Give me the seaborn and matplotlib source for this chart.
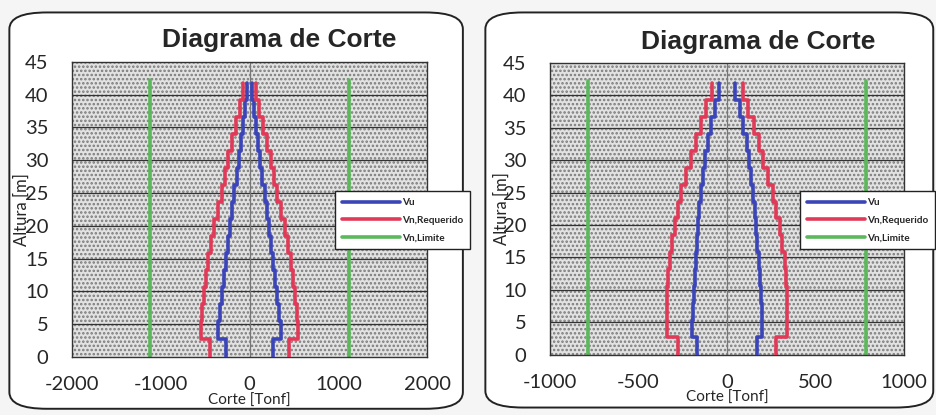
import matplotlib
matplotlib.use("Agg")
import matplotlib.pyplot as plt
import seaborn as sns
import numpy as np
from matplotlib.patches import FancyBboxPatch, Rectangle

# alturas de piso [m]
alturas = [0, 2.8, 5.4, 8.0, 10.6, 13.2, 15.8, 18.4, 21.0, 23.6, 26.2,
           28.8, 31.4, 34.0, 36.6, 39.2, 41.8]

# muro 1 (izquierda)
vu_1 = [260, 350, 335, 312, 290, 266, 243, 218, 195, 172, 146, 121, 97, 72, 50, 28]
vn_req_1 = [440, 545, 532, 516, 495, 470, 432, 395, 352, 310, 274, 238, 198, 155, 112, 68]
vn_lim_1 = 1125

# muro 2 (derecha)
vu_2 = [168, 199, 195, 189, 183, 178, 171, 164, 156, 148, 137, 125, 110, 90, 70, 45]
vn_req_2 = [278, 340, 340, 340, 334, 325, 312, 296, 277, 260, 232, 204, 178, 150, 120, 88]
vn_lim_2 = 785

xticks_1 = [-2000, -1000, 0, 1000, 2000]
xticks_2 = [-1000, -500, 0, 500, 1000]
yticks = [0, 5, 10, 15, 20, 25, 30, 35, 40, 45]

c_vu = "#3b45b8"
c_req = "#e03a58"
c_lim = "#5cb85c"

sns.set_theme(style="white")
plt.rcParams["font.family"] = ["Lato", "DejaVu Sans"]
plt.rcParams["axes.unicode_minus"] = False
plt.rcParams["hatch.color"] = "#7a7a7a"
plt.rcParams["hatch.linewidth"] = 1.2

fig = plt.figure(figsize=(9.37, 4.15), dpi=100)
fig.patch.set_facecolor("#f5f5f5")


def escalon(h, v):
    ys = np.repeat(h, 2)[1:-1]
    xs = np.repeat(v, 2)
    return xs, ys


def panel(rect, box, vu, vn, vlim, xticks, xlim, leg_xy, title_xy, ylab_x):
    # marco redondeado
    fig.patches.append(FancyBboxPatch((box[0], box[1]), box[2], box[3],
                                      boxstyle="round,pad=0,rounding_size=0.04",
                                      transform=fig.transFigure, facecolor="white",
                                      edgecolor="#222222", linewidth=1.4, zorder=-5))
    ax = fig.add_axes(rect)
    ax.set_facecolor("#e2e2e2")
    ax.add_patch(Rectangle((0, 0), 1, 1, transform=ax.transAxes, facecolor="none",
                           hatch="....", edgecolor="#7a7a7a", linewidth=0, zorder=0))
    for y in yticks[1:-1]:
        ax.axhline(y, color="#333333", linewidth=0.9, zorder=1)
    ax.axvline(0, color="#777777", linewidth=0.9, zorder=1)

    xs, ys = escalon(alturas, vu)
    sns.lineplot(x=xs, y=ys, sort=False, estimator=None, color=c_vu, linewidth=2.6,
                 ax=ax, label="Vu", zorder=3)
    sns.lineplot(x=-xs, y=ys, sort=False, estimator=None, color=c_vu, linewidth=2.6,
                 ax=ax, zorder=3)
    xs, ys = escalon(alturas, vn)
    sns.lineplot(x=xs, y=ys, sort=False, estimator=None, color=c_req, linewidth=2.6,
                 ax=ax, label="Vn,Requerido", zorder=3)
    sns.lineplot(x=-xs, y=ys, sort=False, estimator=None, color=c_req, linewidth=2.6,
                 ax=ax, zorder=3)
    top = [alturas[0], alturas[-1] + 0.4]
    sns.lineplot(x=[vlim, vlim], y=top, sort=False, estimator=None, color=c_lim,
                 linewidth=2.6, ax=ax, label="Vn,Limite", zorder=2)
    sns.lineplot(x=[-vlim, -vlim], y=top, sort=False, estimator=None, color=c_lim,
                 linewidth=2.6, ax=ax, zorder=2)

    ax.set_xlim(*xlim)
    ax.set_ylim(0, 45)
    ax.set_xticks(xticks)
    ax.set_yticks(yticks)
    ax.tick_params(axis="x", labelsize=14.5, pad=14, length=0)
    ax.tick_params(axis="y", labelsize=14.5, pad=17, length=0)
    for s in ax.spines.values():
        s.set_color("#333333")
        s.set_linewidth(1.0)
    ax.set_xlabel("Corte [Tonf]", fontsize=11, labelpad=0)
    ax.set_ylabel("Altura [m]", fontsize=12)
    ax.yaxis.set_label_coords(ylab_x, 0.5)
    fig.text(title_xy[0], title_xy[1], "Diagrama de Corte", ha="center", va="center",
             fontsize=19, fontweight="bold", family=["Liberation Sans", "DejaVu Sans"])
    leg = ax.legend(loc="upper left", bbox_to_anchor=leg_xy, bbox_transform=fig.transFigure,
                    fontsize=7.2, handlelength=5.8, frameon=True, fancybox=False,
                    framealpha=1, edgecolor="#222222", borderpad=0.7, labelspacing=0.85,
                    handletextpad=0.2)
    leg.get_frame().set_linewidth(1.0)
    for t in leg.get_texts():
        t.set_fontweight("bold")
    return ax


panel([0.0768, 0.140, 0.379, 0.711], [0.010, 0.015, 0.484, 0.955],
      vu_1, vn_req_1, vn_lim_1, xticks_1, (-2000, 2000), (0.352, 0.551), (0.298, 0.903),
      -0.118)
panel([0.587, 0.145, 0.378, 0.704], [0.518, 0.018, 0.478, 0.952],
      vu_2, vn_req_2, vn_lim_2, xticks_2, (-1000, 1000), (0.848, 0.551), (0.809, 0.898),
      -0.113)

fig.savefig("out.png", dpi=100, facecolor=fig.get_facecolor())
